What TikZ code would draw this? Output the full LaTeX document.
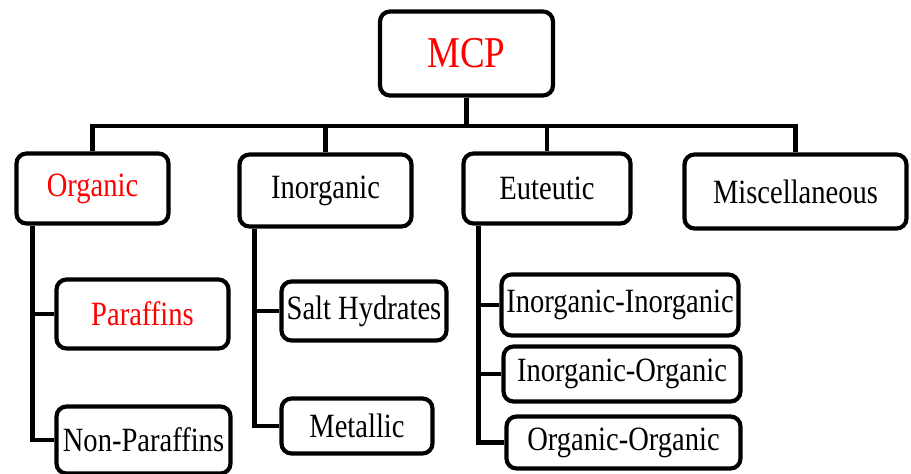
\documentclass[tikz,border=0pt]{standalone}
\usepackage{fontspec}
\setmainfont{Liberation Serif}[FakeStretch=0.84]
\usetikzlibrary{calc}
\definecolor{mcpred}{RGB}{255,0,0}
\tikzset{
  box/.style={draw=black, line width=4.2pt, rounded corners=10pt, inner sep=0pt, font=\fontsize{34}{34}\selectfont, text=black},
  link/.style={draw=black, line width=4.2pt}
}
\begin{document}
\begin{tikzpicture}[x=1pt,y=-1pt]
\useasboundingbox (0,0) rectangle (911,474);
\clip (0,0) rectangle (911,474);
\fill[white] (0,0) rectangle (911,474);
\node[box, minimum width=173pt, minimum height=84pt, text=mcpred, font=\fontsize{44}{44}\selectfont] (mcp) at (466.5,53.5) {MCP};
\node[box, minimum width=152pt, minimum height=70pt, text=mcpred] (org) at (92.5,188.5) {Organic};
\node[box, minimum width=172pt, minimum height=72pt] (inorg) at (325.5,190.5) {Inorganic};
\node[box, minimum width=167pt, minimum height=70pt] (eut) at (547,188.5) {Euteutic};
\node[box, minimum width=222pt, minimum height=74pt] (misc) at (795.5,191.5) {Miscellaneous};
\node[box, minimum width=172pt, minimum height=69pt, text=mcpred] (par) at (142.5,314) {Paraffins};
\node[box, minimum width=174pt, minimum height=67pt] (npar) at (143.5,440) {Non-Paraffins};
\node[box, minimum width=165pt, minimum height=59pt] (salt) at (364,311) {Salt Hydrates};
\node[box, minimum width=151pt, minimum height=55pt] (met) at (357,426) {Metallic};
\node[box, minimum width=237pt, minimum height=61pt] (ii) at (620,305) {Inorganic-Inorganic};
\node[box, minimum width=237pt, minimum height=55pt] (io) at (622,374) {Inorganic-Organic};
\node[box, minimum width=234pt, minimum height=52pt] (oo) at (623.5,442.5) {Organic-Organic};
% top bus
\draw[link] (mcp.south) -- ++(0,28) coordinate (bus);
\draw[link] (org.north) |- (bus) -| (misc.north);
\draw[link] (inorg.north) -- (inorg.north |- bus);
\draw[link] (eut.north) -- (eut.north |- bus);
% organic branch
\draw[link] ($(org.south west)+(18,0)$) coordinate (to) |- (npar.west);
\draw[link] (to |- par.west) -- (par.west);
% inorganic branch
\draw[link] ($(inorg.south west)+(17,0)$) coordinate (ti) |- (met.west);
\draw[link] (ti |- salt.west) -- (salt.west);
% eutectic branch
\draw[link] ($(eut.south west)+(17,0)$) coordinate (te) |- (oo.west);
\draw[link] (te |- ii.west) -- (ii.west);
\draw[link] (te |- io.west) -- (io.west);
\end{tikzpicture}
\end{document}
